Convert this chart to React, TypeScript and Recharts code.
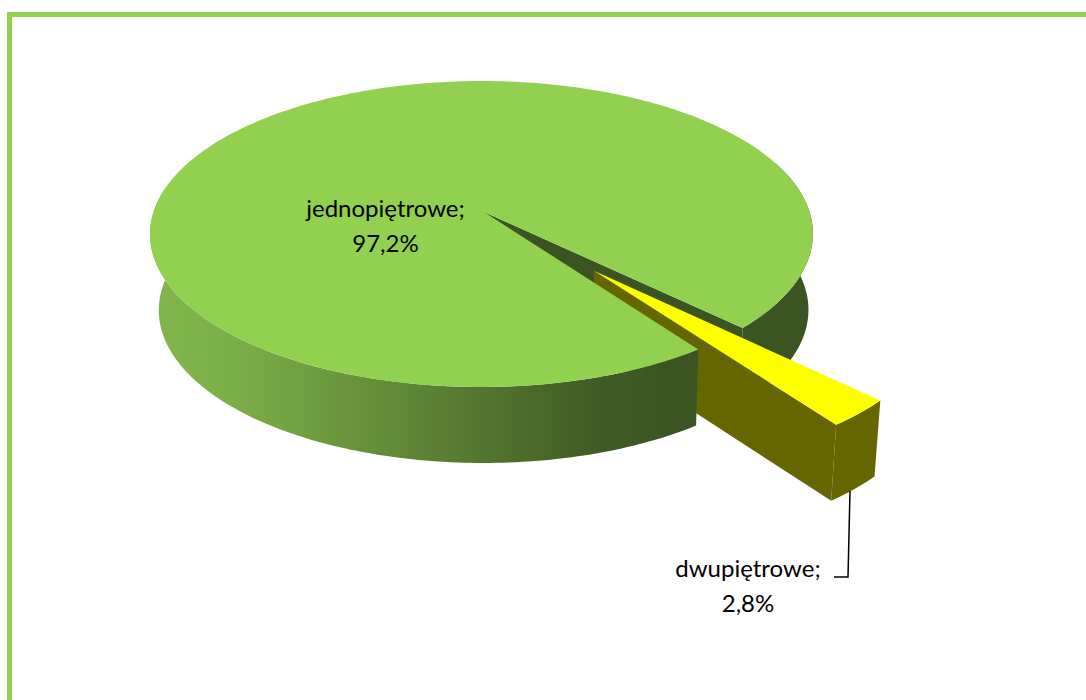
import React from "react";
import { PieChart, Pie, Cell } from "recharts";

const categories = ["jednopiętrowe", "dwupiętrowe"];
const shares = [97.2, 2.8];
const topColors = ["#92d050", "#ffff00"];
const wallColors = ["#3b5522", "#666600"];
const explosions = [0, 0.49];
const chartData = categories.map((name, i) => ({ name, value: shares[i] }));

const CX = 484, CY = 212, R = 328, K = 149.8, TILT_V = 0.1438, TILT_U = -0.0076;
const DEPTH = 76, SHRINK = 0.98, VANISH_X = 590;

type Pt = [number, number];
const rad = (a: number) => (a * Math.PI) / 180;
const planeOffset = (index: number, mid: number): Pt => [
  explosions[index] * Math.cos(rad(mid)),
  -explosions[index] * Math.sin(rad(mid)),
];
const project = (u: number, v: number): Pt => {
  const w = 1 - TILT_V * v - TILT_U * u;
  return [CX + (R * u) / w, CY + (K * v) / w];
};
const onRim = (a: number, r: number, o: Pt): Pt =>
  project(r * Math.cos(rad(a)) + o[0], -r * Math.sin(rad(a)) + o[1]);
const lower = (p: Pt): Pt => [VANISH_X + (p[0] - VANISH_X) * SHRINK, p[1] + DEPTH];
const arc = (from: number, to: number, o: Pt): Pt[] => {
  const n = Math.max(2, Math.ceil(Math.abs(to - from)));
  return Array.from({ length: n + 1 }, (_, i) => onRim(from + ((to - from) * i) / n, 1, o));
};
const toPath = (pts: Pt[]) =>
  "M" + pts.map((p) => `${p[0].toFixed(2)},${p[1].toFixed(2)}`).join("L") + "Z";
const band = (top: Pt[]) => toPath([...top, ...top.map(lower).reverse()]);

const makeShape = (layer: number) => (props: any) => {
  const { startAngle, endAngle, index } = props;
  const mid = (startAngle + endAngle) / 2;
  const o = planeOffset(index, mid);
  const apex = project(o[0], o[1]);
  const wall = wallColors[index];
  const top = toPath([apex, ...arc(startAngle, endAngle, o)]);
  if (index === 0) {
    if (layer === 0) {
      const rimEnd = onRim(startAngle, 1, o);
      return (
        <g>
          <path d={band(arc(startAngle, 20, o))} fill={wall} />
          <path d={toPath([apex, rimEnd, lower(rimEnd), lower(apex)])} fill={wall} />
        </g>
      );
    }
    if (layer === 2) {
      return (
        <g>
          <defs>
            <linearGradient id="frontWall" gradientUnits="userSpaceOnUse" x1={CX - R} y1="0" x2={CX + 190} y2="0">
              <stop offset="0" stopColor="#82b54c" />
              <stop offset="0.15" stopColor="#7cae47" />
              <stop offset="0.85" stopColor="#3f5c25" />
              <stop offset="1" stopColor={wall} />
            </linearGradient>
          </defs>
          <path d={band(arc(endAngle, 170, o))} fill="url(#frontWall)" />
          <path d={top} fill={topColors[index]} />
        </g>
      );
    }
    return null;
  }
  if (layer === 1) {
    const rim = onRim(startAngle, 1, o);
    return (
      <g>
        <path d={toPath([apex, rim, lower(rim), lower(apex)])} fill={wall} />
        <path d={band(arc(startAngle, endAngle, o))} fill={wall} />
      </g>
    );
  }
  if (layer === 3) return <path d={top} fill={topColors[index]} />;
  return null;
};

const FONT = "Lato, 'Noto Sans', sans-serif";
const labelCentres: Pt[] = [[385.5, 217], [748, 577]];
const LINE_GAP = 35;

const renderLabel = (props: any) => {
  const { index, name, percent } = props;
  const [x, y] = labelCentres[index];
  const pct = (percent * 100).toFixed(1).replace(".", ",") + "%";
  return (
    <g key={name}>
      {index === 1 && (
        <path d={`M${x + 102},${y - 86} L${x + 100},${y} L${x + 86},${y}`} fill="none" stroke="#000" strokeWidth={1.5} />
      )}
      <text x={x} y={y} textAnchor="middle" fontFamily={FONT} fontSize={24} fill="#000">{name};</text>
      <text x={x} y={y + LINE_GAP} textAnchor="middle" fontFamily={FONT} fontSize={24} fill="#000">{pct}</text>
    </g>
  );
};

const layer = (n: number, withLabels: boolean) => (
  <Pie
    key={n}
    data={chartData}
    dataKey="value"
    nameKey="name"
    cx={CX}
    cy={CY}
    innerRadius={0}
    outerRadius={R}
    startAngle={-44.5}
    endAngle={315.5}
    stroke="none"
    isAnimationActive={false}
    shape={makeShape(n)}
    label={withLabels ? renderLabel : false}
    labelLine={false}
  >
    {chartData.map((d, i) => (
      <Cell key={d.name} fill={topColors[i]} />
    ))}
  </Pie>
);

export default function App() {
  return (
    <div style={{ position: "absolute", left: 0, top: 0, width: 1086, height: 700, overflow: "hidden", background: "#fff" }}>
      <div
        style={{
          position: "absolute", left: 7, top: 12, width: 1200, height: 800,
          borderLeft: "5px solid #92d050", borderTop: "5px solid #92d050", borderTopLeftRadius: 2,
        }}
      />
      <div style={{ position: "absolute", left: 0, top: 0 }}>
        <PieChart width={1086} height={700} margin={{ top: 0, right: 0, bottom: 0, left: 0 }}>
          {layer(0, false)}
          {layer(1, false)}
          {layer(2, false)}
          {layer(3, true)}
        </PieChart>
      </div>
    </div>
  );
}
